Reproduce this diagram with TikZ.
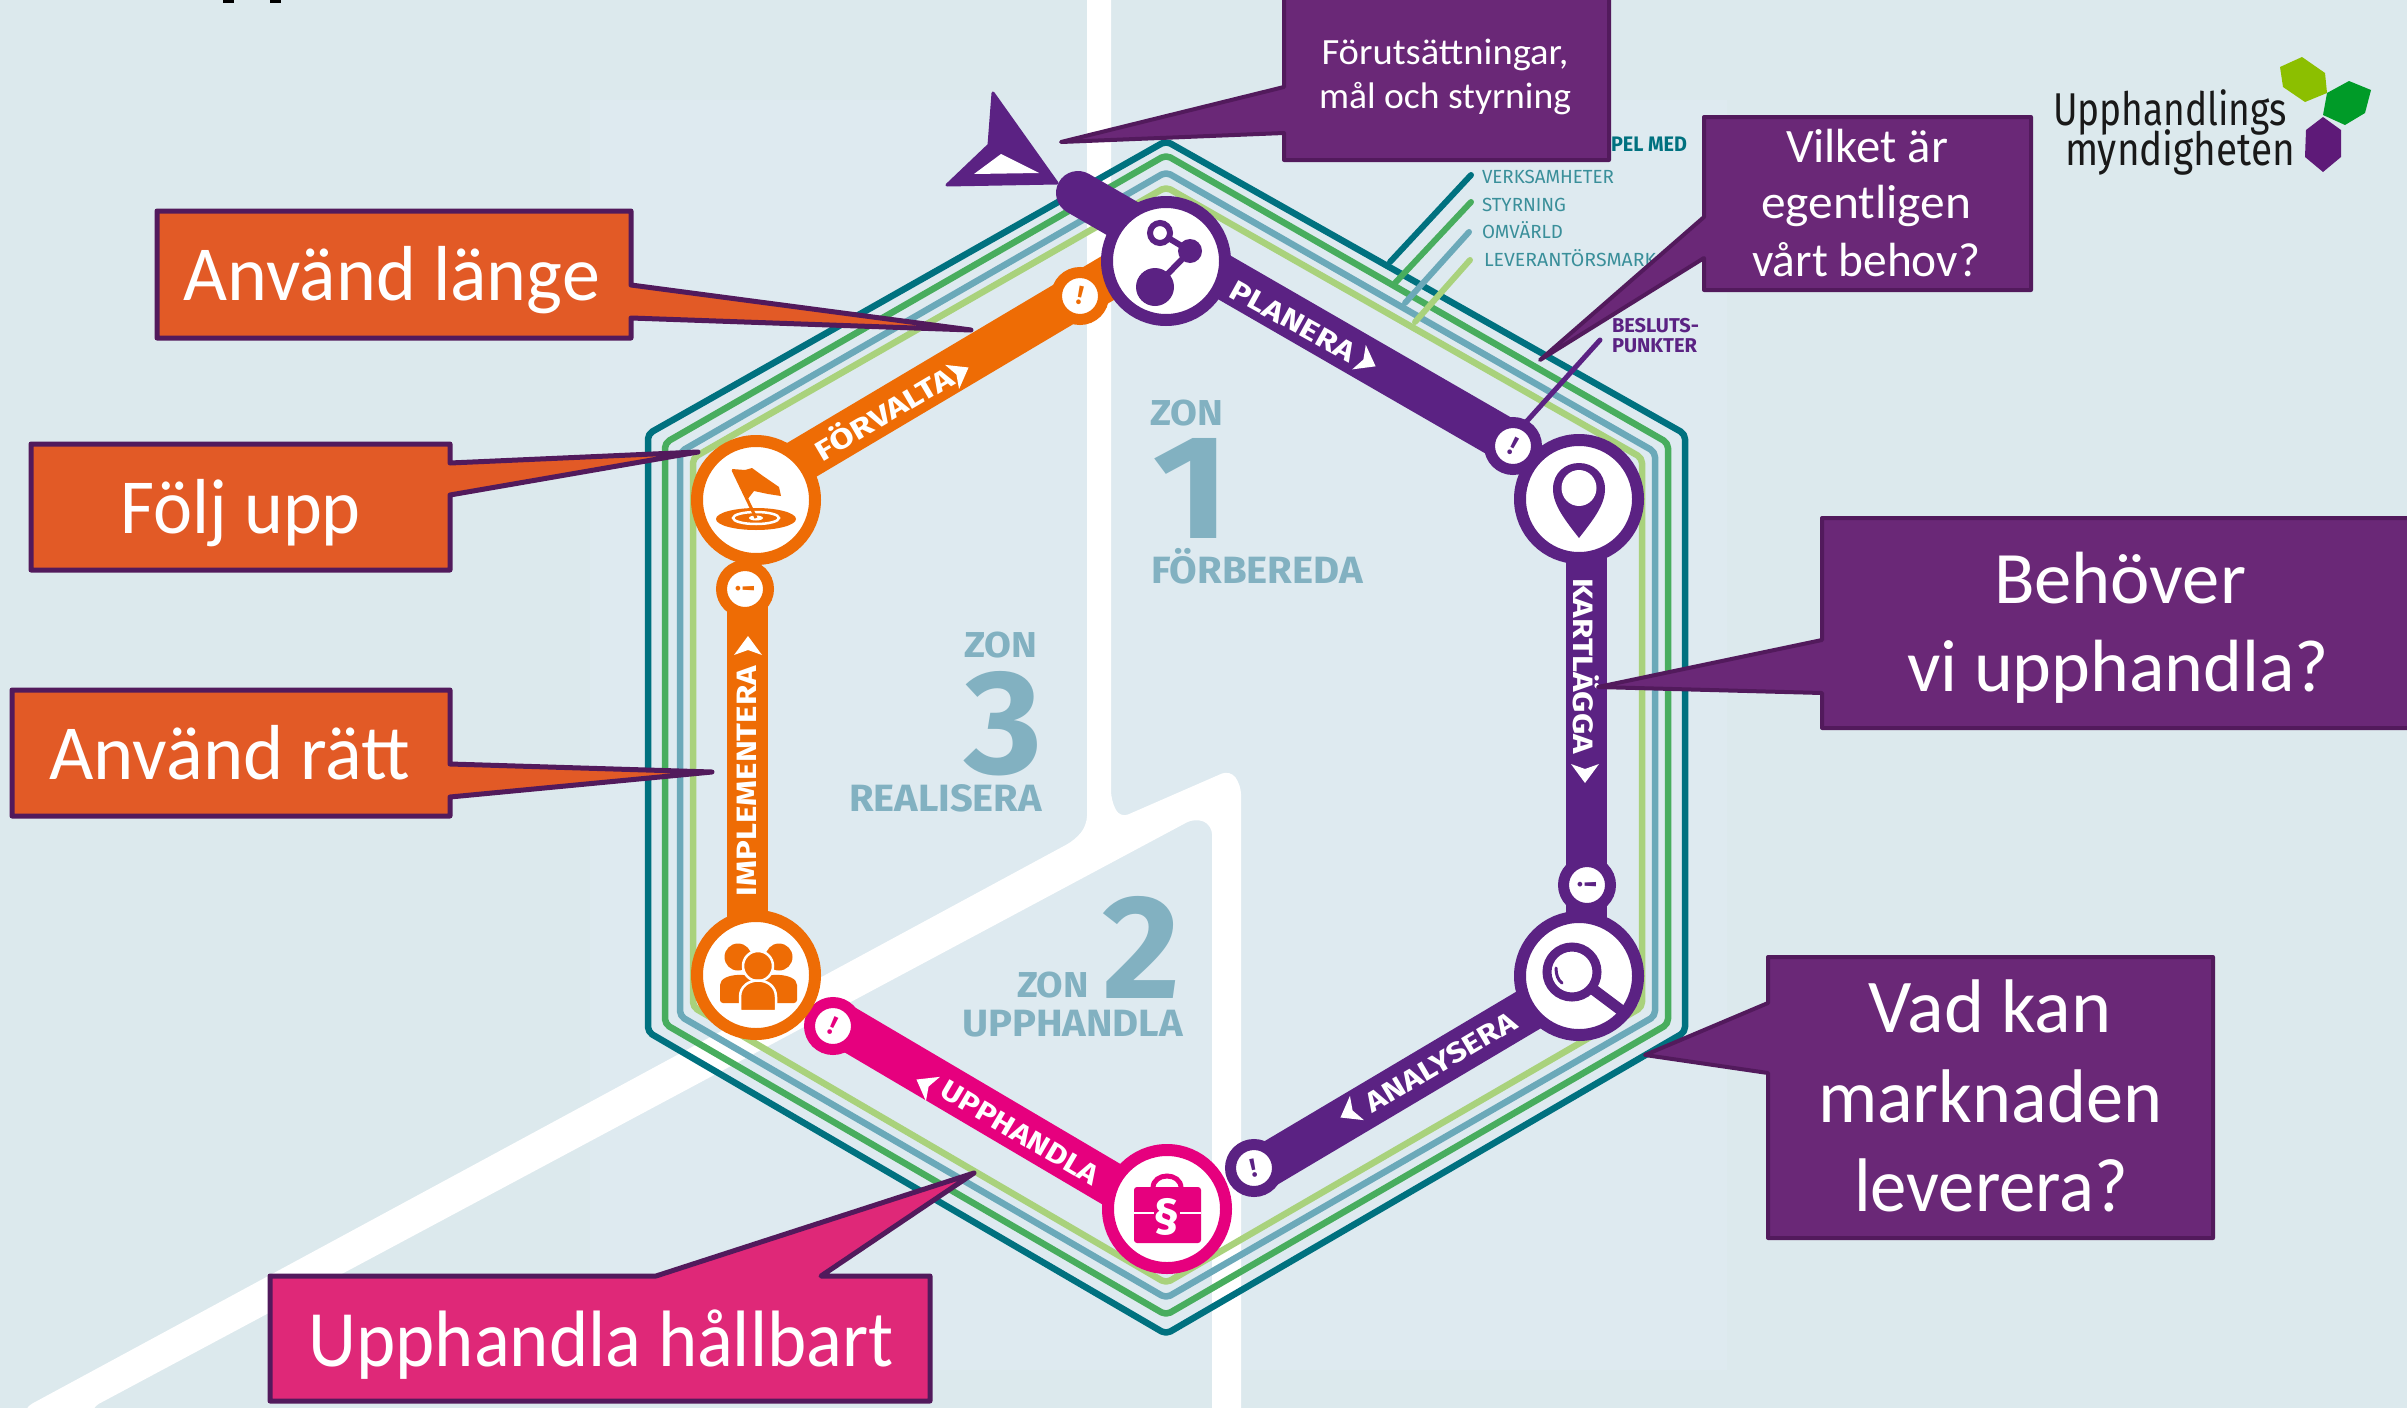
\documentclass[tikz,border=0pt]{standalone}
\usepackage{graphicx}
\usepackage{fontspec}
\setmainfont{Carlito}
\newfontfamily\dinf{Fira Sans}
\newcommand{\fitb}[3]{\resizebox{#1pt}{\height}{\fontsize{#2}{#2}\selectfont #3}}
\definecolor{bgc}{HTML}{DCE9ED}
\definecolor{bgi}{HTML}{DEEAF0}
\definecolor{teal1}{HTML}{00717F}
\definecolor{green1}{HTML}{48AD5E}
\definecolor{blue1}{HTML}{6BA9B9}
\definecolor{lime1}{HTML}{A9D27C}
\definecolor{purp}{HTML}{5B2283}
\definecolor{oran}{HTML}{EE6C05}
\definecolor{pink1}{HTML}{E6007E}
\definecolor{cpurp}{HTML}{6A2877}
\definecolor{cdark}{HTML}{521A5C}
\definecolor{coran}{HTML}{E25A26}
\definecolor{cpink}{HTML}{DF2878}
\definecolor{zonc}{HTML}{82B1C1}
\definecolor{legc}{HTML}{3A8F9A}
\definecolor{logoA}{HTML}{8CBF00}
\definecolor{logoB}{HTML}{009B28}
\definecolor{logoC}{HTML}{5E1A78}
\newcommand{\tiparrow}[3]{\fill[white,shift={(#1,#2)},rotate=#3] (11,0) -- (-8,-14) -- (-3,0) -- (-8,14) -- cycle;}
\tikzset{
  tx/.style={anchor=base,inner sep=0pt,outer sep=0pt,text=white},
  zonetx/.style={anchor=base,inner sep=0pt,outer sep=0pt,text=zonc,font=\dinf\bfseries},
  legtx/.style={anchor=base west,inner sep=0pt,outer sep=0pt,text=legc,font=\dinf},
  bandtx/.style={anchor=center,inner sep=0pt,outer sep=0pt,text=white,font=\dinf\bfseries},
  hexline/.style={line width=6.5pt,line join=round,rounded corners=5pt},
  band/.style={line width=#1,line cap=round},
  station/.style={circle,draw=#1,fill=white,line width=12pt,minimum size=118pt,inner sep=0pt,outer sep=0pt},
  bump/.style={circle,draw=#1,fill=white,line width=11pt,minimum size=47pt,inner sep=0pt,outer sep=0pt,text=#1,font=\dinf\bfseries\fontsize{26}{26}\selectfont},
  callP/.style={fill=cpurp,draw=cdark,line width=4pt,line join=round},
  callO/.style={fill=coran,draw=cdark,line width=5pt,line join=round},
  callK/.style={fill=cpink,draw=cdark,line width=5pt,line join=round},
}
\begin{document}
\begin{tikzpicture}[x=1pt,y=-1pt]
\useasboundingbox (0,0) rectangle (2407,1408);
\clip (0,0) rectangle (2407,1408);
\fill[bgc] (0,0) rectangle (2407,1408);
\fill[bgi] (590,100) rectangle (1727,1370);
% cropped title descenders
\fill[black] (223,0) rectangle (234,3);
\fill[black] (270,0) rectangle (281,3);
% roads
\fill[white,rounded corners=9pt] (24,1430) -- (24,1408) -- (1075,840) -- (1087,825) -- (1087,-20) -- (1111,-20) -- (1111,800) -- (1120,818) -- (1230,770) -- (1241,785) -- (1241,1430) -- (1212,1430) -- (1212,825) -- (1195,818) -- (91,1408) -- (91,1430) -- cycle;
% hexagon lines
\draw[hexline,lime1] (1166,187) -- (1642,458) -- (1642,1007) -- (1166,1283) -- (693,1007) -- (693,458) -- cycle;
\draw[hexline,blue1] (1166,172) -- (1655,452) -- (1655,1016) -- (1166,1298) -- (680,1016) -- (680,452) -- cycle;
\draw[hexline,green1] (1166,155) -- (1668,443) -- (1668,1024) -- (1166,1315) -- (665,1024) -- (665,443) -- cycle;
\draw[hexline,teal1] (1166,141) -- (1685,434) -- (1685,1032) -- (1166,1334) -- (648,1032) -- (648,434) -- cycle;
% legend leaders
\draw[line width=6pt,line cap=round,teal1] (1390,262) -- (1471,175);
\draw[line width=6pt,line cap=round,green1] (1395,283) -- (1471,202);
\draw[line width=6pt,line cap=round,blue1] (1405,303) -- (1469,232);
\draw[line width=6pt,line cap=round,lime1] (1415,322) -- (1470,260);
\draw[line width=5pt,line cap=round,purp] (1527,421) -- (1600,340);
% legend text
\node[legtx,text=teal1,font=\dinf\bfseries] (lgA) at (1611,151) {\fitb{76}{21}{PEL MED}};
\node[legtx] (lgB) at (1482,183) {\fitb{132}{19}{VERKSAMHETER}};
\node[legtx] (lgC) at (1482,211) {\fitb{84}{19}{STYRNING}};
\node[legtx] (lgD) at (1482,238) {\fitb{81}{19}{OMVÄRLD}};
\node[legtx] (lgE) at (1484,266) {\fitb{172}{19}{LEVERANTÖRSMARK}};
\node[legtx,text=purp,font=\dinf\bfseries] (lgF) at (1612,332) {\fitb{87}{20}{BESLUTS-}};
\node[legtx,text=purp,font=\dinf\bfseries] (lgG) at (1612,352) {\fitb{85}{20}{PUNKTER}};
% zones
\node[zonetx] (z1a) at (1186.5,425) {\fitb{73}{36}{ZON}};
\node[zonetx] (z1b) at (1191,538) {\fitb{78}{148}{1}};
\node[zonetx] (z1c) at (1257,583) {\fitb{212}{38}{FÖRBEREDA}};
\node[zonetx] (z3a) at (1000.5,657) {\fitb{73}{36}{ZON}};
\node[zonetx] (z3b) at (1003,773) {\fitb{78}{148}{3}};
\node[zonetx] (z3c) at (945.5,811) {\fitb{193}{38}{REALISERA}};
\node[zonetx] (z2a) at (1053,997) {\fitb{72}{36}{ZON}};
\node[zonetx] (z2b) at (1141,998) {\fitb{78}{148}{2}};
\node[zonetx] (z2c) at (1072.5,1036) {\fitb{221}{38}{UPPHANDLA}};
% start marker
\fill[purp,line join=round,draw=purp,line width=3pt] (993,93) -- (1057,183) -- (947,185) -- (989,145) -- cycle;
\fill[white] (974,174) -- (1001,154) -- (1039,173) -- cycle;
% track coordinates
\coordinate (pA) at (1078,193);
\coordinate (pB) at (1513,444);
\coordinate (kA) at (1586,499);
\coordinate (kB) at (1586,976);
\coordinate (aA) at (1579,980);
\coordinate (aB) at (1254,1173);
\coordinate (uA) at (1167,1217);
\coordinate (uB) at (833,1020);
\coordinate (iA) at (747,975);
\coordinate (iB) at (747,589);
\coordinate (fA) at (756,487);
\coordinate (fB) at (1160,247);
\draw[band=44pt,purp] (pA) -- (pB);
\draw[band=41pt,purp] (kA) -- (kB);
\draw[band=44pt,purp] (aA) -- (aB);
\draw[band=44pt,pink1] (uA) -- (uB);
\draw[band=41pt,oran] (iA) -- (iB);
\draw[band=44pt,oran] (fA) -- (fB);
% bumps
\node[bump=purp] (bPl) at (1513,446) {\rotatebox{-28}{!}};
\node[bump=purp] (bKa) at (1587,885) {\rotatebox{-90}{!}};
\node[bump=purp] (bAn) at (1254,1168) {\rotatebox{12}{!}};
\node[bump=pink1] (bUp) at (833,1026) {\rotatebox{-25}{!}};
\node[bump=oran] (bIm) at (745,589) {\rotatebox{-90}{!}};
\node[bump=oran] (bFo) at (1080,296) {\rotatebox{-12}{!}};
% stations
\node[station=purp] (sTop) at (1166,261) {};
\node[station=purp] (sRt) at (1579,499) {};
\node[station=purp] (sRb) at (1579,976) {};
\node[station=pink1] (sBot) at (1167,1209) {};
\node[station=oran] (sLb) at (756,975) {};
\node[station=oran] (sLt) at (756,500) {};
% icon: network
\draw[purp,line width=6pt] (1160,233) -- (1190,251) -- (1155,287);
\draw[purp,fill=white,line width=6pt] (1160,233) circle (10);
\fill[purp] (1190,251) circle (12);
\fill[purp] (1155,287) circle (19);
% icon: pin
\fill[purp] (1579,538) .. controls (1565,520) and (1553,505) .. (1553,489) .. controls (1553,473) and (1565,463) .. (1579,463) .. controls (1593,463) and (1605,473) .. (1605,489) .. controls (1605,505) and (1593,520) .. (1579,538) -- cycle;
\fill[white] (1579,488) ellipse (17.5 and 18);
% icon: magnifier
\draw[purp,line width=9pt] (1572,972) circle (25);
\draw[purp,line width=11pt] (1594,990) -- (1626,1014);
\draw[purp,line width=3pt,line cap=round] (1556,968) .. controls (1556,975) and (1558,980) .. (1562,983);
% icon: briefcase
\draw[pink1,line width=5pt] (1153,1188) .. controls (1153,1172) and (1181,1172) .. (1181,1188);
\fill[pink1,rounded corners=3pt] (1134,1187) rectangle (1201,1243);
\draw[white,line width=2.5pt] (1134,1213) -- (1201,1213);
\node[inner sep=0pt,fill=pink1,text=white,font=\dinf\bfseries\fontsize{48}{48}\selectfont,anchor=center] (sect) at (1167,1217) {§};
% icon: people
\fill[oran] (738,957) circle (13.5);
\fill[oran] (779,957) circle (13.5);
\fill[oran,rounded corners=3pt] (720,1003) -- (720,988) .. controls (720,972) and (756,972) .. (758,985) .. controls (760,972) and (797,972) .. (797,988) -- (797,1003) -- cycle;
\fill[oran,draw=white,line width=2.5pt] (758,966) circle (15);
\fill[oran,draw=white,line width=2.5pt] (740,1011) -- (740,997) .. controls (740,975) and (776,975) .. (776,997) -- (776,1011) -- cycle;
% icon: flag and target
\fill[oran] (756,519) ellipse (40 and 11);
\draw[white,line width=2.5pt] (756,518) ellipse (23 and 6);
\fill[white] (756,518) ellipse (7 and 2.5);
\draw[oran,line width=3pt] (756,518) -- (733,470);
\fill[oran] (732,469) -- (745,470) -- (752,468) -- (763,476) -- (779,487) -- (781,496) -- (768,494) -- (754,491) -- (747,500) -- cycle;
% band labels
\node[bandtx,rotate=-29] (lbP) at (1293,321) {\fitb{138}{28}{PLANERA}};
\tiparrow{1366}{361}{-29}
\node[bandtx,rotate=-90] (lbK) at (1586,666) {\fitb{176}{28}{KARTLÄGGA}};
\tiparrow{1585}{772}{-90}
\node[bandtx,rotate=30.5] (lbA) at (1441,1062) {\fitb{170}{28}{ANALYSERA}};
\tiparrow{1350}{1112}{210}
\node[bandtx,rotate=-30.5] (lbU) at (1020,1133) {\fitb{178}{28}{UPPHANDLA}};
\tiparrow{926}{1085}{150}
\node[bandtx,rotate=90] (lbI) at (747,781) {\fitb{230}{28}{IMPLEMENTERA}};
\tiparrow{748}{647}{90}
\node[bandtx,rotate=30.5] (lbF) at (883,412) {\fitb{155}{28}{FÖRVALTA}};
\tiparrow{959}{373}{30}
% logo
\node[tx,anchor=base west,text=black!90,font=\dinf] (logoTa) at (2053,125) {\fitb{234}{46}{Upphandlings}};
\node[tx,anchor=base west,text=black!90,font=\dinf] (logoTb) at (2065,165) {\fitb{230}{46}{myndigheten}};
\fill[logoA] (2302,57) -- (2325,73) -- (2327,93) -- (2305,102) -- (2283,87) -- (2280,67) -- cycle;
\fill[logoB] (2349,81) -- (2371,90) -- (2365,113) -- (2345,125) -- (2323,115) -- (2327,93) -- cycle;
\fill[logoC] (2323,117) -- (2341,130) -- (2341,157) -- (2323,172) -- (2305,157) -- (2306,130) -- cycle;
% callouts
\draw[callP] (1284,-10) -- (1284,87) -- (1061,142) -- (1284,133) -- (1284,160) -- (1609,160) -- (1609,-10) -- cycle;
\node[tx] (cFa) at (1445,64) {\fitb{247}{37}{Förutsättningar,}};
\node[tx] (cFb) at (1445,108) {\fitb{252}{37}{mål och styrning}};
\draw[callP] (1704,117) -- (2031,117) -- (2031,290) -- (1704,290) -- (1704,258) -- (1540,360) -- (1704,217) -- cycle;
\node[tx] (cVa) at (1867,162) {\fitb{162}{48}{Vilket är}};
\node[tx] (cVb) at (1866,218) {\fitb{210}{48}{egentligen}};
\node[tx] (cVc) at (1866,276) {\fitb{228}{48}{vårt behov?}};
\draw[callP] (1822,518) -- (2420,518) -- (2420,728) -- (1822,728) -- (1822,693) -- (1598,687) -- (1822,640) -- cycle;
\node[tx] (cBa) at (2120,603) {\fitb{252}{74}{Behöver}};
\node[tx] (cBb) at (2118,691) {\fitb{422}{74}{vi upphandla?}};
\draw[callP] (1768,957) -- (2213,957) -- (2213,1238) -- (1768,1238) -- (1768,1073) -- (1645,1055) -- (1768,1003) -- cycle;
\node[tx] (cMa) at (1990,1032) {\fitb{243}{76}{Vad kan}};
\node[tx] (cMb) at (1990,1122) {\fitb{344}{76}{marknaden}};
\node[tx] (cMc) at (1991,1211) {\fitb{274}{76}{leverera?}};
\draw[callO] (157,211) -- (631,211) -- (631,285) -- (971,330) -- (631,318) -- (631,338) -- (157,338) -- cycle;
\node[tx] (cLa) at (392,300) {\fitb{416}{78}{Använd länge}};
\draw[callO] (31,444) -- (450,444) -- (450,463) -- (698,452) -- (450,495) -- (450,570) -- (31,570) -- cycle;
\node[tx] (cUa) at (241,533) {\fitb{240}{78}{Följ upp}};
\draw[callO] (12,690) -- (450,690) -- (450,764) -- (712,772) -- (450,797) -- (450,816) -- (12,816) -- cycle;
\node[tx] (cRa) at (230,779) {\fitb{361}{78}{Använd rätt}};
\draw[callK] (270,1276) -- (656,1276) -- (974,1173) -- (821,1276) -- (930,1276) -- (930,1401) -- (270,1401) -- cycle;
\node[tx] (cHa) at (601,1366) {\fitb{585}{80}{Upphandla hållbart}};
\end{tikzpicture}
\end{document}
